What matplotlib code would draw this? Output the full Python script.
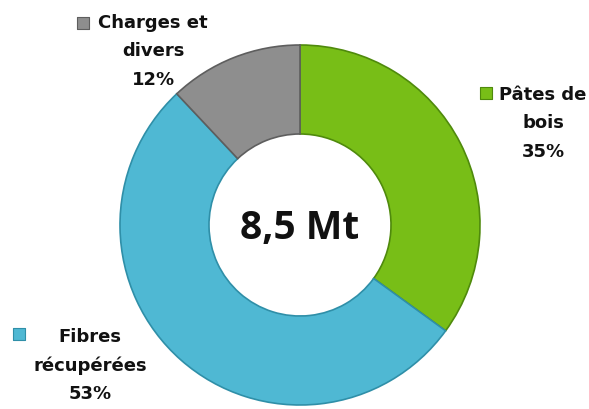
import matplotlib.pyplot as plt

labels = ['Pâtes de\nbois', 'Fibres\nrécupérées', 'Charges et\ndivers']
shares = [35, 53, 12]
colors = ['#78BE17', '#4FB8D3', '#8E8E8E']
edge_colors = ['#4F8A0C', '#2F8FA8', '#5E5E5E']
total_label = '8,5 Mt'

# label anchor (text centre x, first line y) and marker position, in pixels
label_pos = [(543, 95), (90, 337), (153, 23)]
marker_pos = [(486, 94), (19, 335), (83, 24)]

H = 410
fig = plt.figure(figsize=(5.89, 4.10), dpi=100)
ax = fig.add_axes([0, 0, 1, 1])

wedges, _ = ax.pie(
    shares,
    colors=colors,
    startangle=90,
    counterclock=False,
    center=(300, H - 226),
    radius=180,
    wedgeprops=dict(width=89, linewidth=1.2),
)
for w, ec in zip(wedges, edge_colors):
    w.set_edgecolor(ec)

# pie resets the limits, so set pixel-like limits afterwards
ax.set_xlim(0, 589)
ax.set_ylim(0, H)
ax.set_aspect('equal')
ax.axis('off')

ax.text(300, H - 229, total_label, ha='center', va='center',
        fontsize=28, fontweight='bold', family='Open Sans', color='#111111')

for lab, share, (tx, ty), (mx, my), col, ec in zip(
        labels, shares, label_pos, marker_pos, colors, edge_colors):
    lines = lab.split('\n') + [f'{share}%']
    for i, line in enumerate(lines):
        ax.text(tx, H - (ty + i * 28.5), line, ha='center', va='center',
                fontsize=13, fontweight='bold', family='DejaVu Sans',
                color='#111111')
    ax.scatter([mx], [H - my], marker='s', s=85, color=col,
               edgecolors=ec, linewidths=0.8)

fig.savefig('out.png', dpi=100)
